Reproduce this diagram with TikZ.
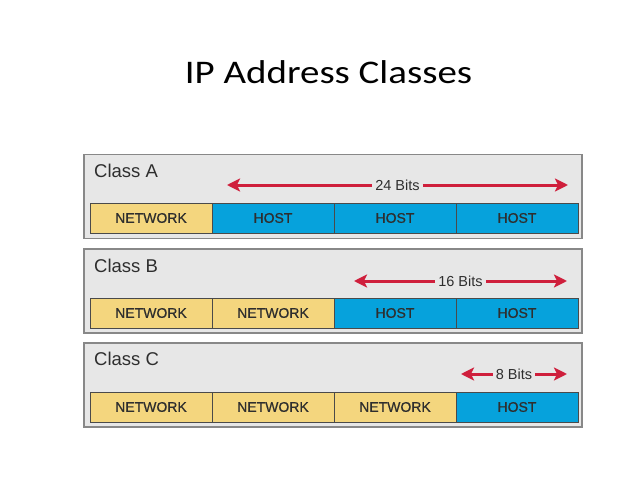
\documentclass[tikz,border=0pt]{standalone}
\usepackage{fontspec}
\setmainfont{Liberation Sans}
\newfontfamily\titlefont[FakeStretch=1.18]{Carlito}
\newfontfamily\cellfont[FakeBold=0.7]{Liberation Sans}
\usepackage{tikz}
\usetikzlibrary{positioning, arrows.meta}
\definecolor{panelgray}{HTML}{E7E7E7}
\definecolor{panelline}{HTML}{888888}
\definecolor{cellline}{HTML}{4A4A4A}
\definecolor{netyellow}{HTML}{F4D67E}
\definecolor{hostblue}{HTML}{06A2DC}
\definecolor{arrowred}{HTML}{CF1F3C}
\definecolor{textgray}{HTML}{2E2E2E}

\begin{document}
\begin{tikzpicture}[x=1pt, y=-1pt,
    panel/.style={rectangle, draw=panelline, fill=panelgray, line width=1.5pt, minimum width=498pt, minimum height=84pt, inner sep=0pt},
    netcell/.style={rectangle, draw=cellline, fill=netyellow, line width=0.9pt, outer sep=0pt, minimum width=122pt, minimum height=30pt, inner sep=0pt, text=textgray, font=\cellfont\fontsize{14}{14}\selectfont},
    hostcell/.style={netcell, fill=hostblue},
    classlabel/.style={anchor=base west, inner sep=0pt, text=textgray, font=\fontsize{18.5}{18.5}\selectfont},
    bitlabel/.style={inner sep=3pt, text=textgray, font=\fontsize{14.5}{14.5}\selectfont},
    bitarrow/.style={draw=arrowred, line width=3pt, -{Stealth[length=13pt, width=13pt, inset=3pt]}}
]
\useasboundingbox (0,0) rectangle (638,479);
\node[anchor=base, font=\titlefont\fontsize{33}{33}\selectfont](title) at (328.5,83){IP Address Classes};

% Class A
\node[panel](pa) at (333,196.5){};
\node[classlabel](la) at (94,177){Class A};
\node[netcell](a1) at (151,218){NETWORK};
\node[hostcell](a2)[right = 0pt of a1]{HOST};
\node[hostcell](a3)[right = 0pt of a2]{HOST};
\node[hostcell](a4)[right = 0pt of a3]{HOST};
\node[bitlabel](ba) at (397.5,185){24 Bits};
\coordinate (ba-l) at (227,185);
\coordinate (ba-r) at (568,185);
\draw[bitarrow] (ba.west) -- (ba-l);
\draw[bitarrow] (ba.east) -- (ba-r);

% Class B
\node[panel](pb) at (333,291){};
\node[classlabel](lb) at (94,272){Class B};
\node[netcell](b1) at (151,313){NETWORK};
\node[netcell](b2)[right = 0pt of b1]{NETWORK};
\node[hostcell](b3)[right = 0pt of b2]{HOST};
\node[hostcell](b4)[right = 0pt of b3]{HOST};
\node[bitlabel](bb) at (460.5,281){16 Bits};
\coordinate (bb-l) at (354,281);
\coordinate (bb-r) at (567,281);
\draw[bitarrow] (bb.west) -- (bb-l);
\draw[bitarrow] (bb.east) -- (bb-r);

% Class C
\node[panel](pc) at (333,385){};
\node[classlabel](lc) at (94,365){Class C};
\node[netcell](c1) at (151,407){NETWORK};
\node[netcell](c2)[right = 0pt of c1]{NETWORK};
\node[netcell](c3)[right = 0pt of c2]{NETWORK};
\node[hostcell](c4)[right = 0pt of c3]{HOST};
\node[bitlabel](bc) at (514,374){8 Bits};
\coordinate (bc-l) at (461,374);
\coordinate (bc-r) at (567,374);
\draw[bitarrow] (bc.west) -- (bc-l);
\draw[bitarrow] (bc.east) -- (bc-r);
\end{tikzpicture}
\end{document}
